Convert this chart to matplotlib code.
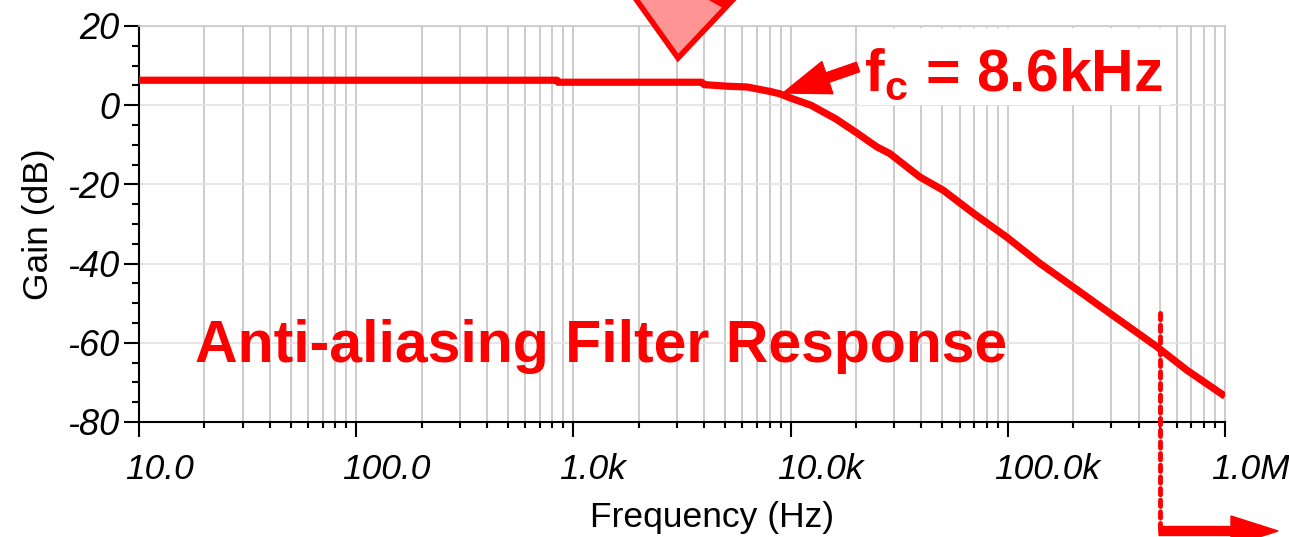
import matplotlib
matplotlib.use("Agg")
import matplotlib.pyplot as plt
import matplotlib.transforms as mtransforms
from matplotlib.patches import FancyArrow, Polygon, Rectangle
from matplotlib.ticker import FixedLocator, FixedFormatter, LogLocator, MultipleLocator

# filter response
freq_hz = [10, 840, 850, 3900, 4000, 5100, 6300, 8000, 8900, 10000, 12400,
           16200, 20300, 24900, 28600, 39300, 50500, 69500, 98800, 141000,
           200000, 296000, 486000, 667000, 1000000]
gain_db = [6.3, 6.3, 5.8, 5.8, 5.2, 4.8, 4.6, 3.5, 2.9, 1.8, 0.0,
           -3.5, -7.1, -10.5, -12.2, -18.1, -21.5, -27.3, -33.3, -40.0,
           -45.9, -52.6, -61.0, -66.9, -73.5]

x_ticks = [10, 100, 1e3, 1e4, 1e5, 1e6]
x_tick_labels = ["10.0", "100.0", "1.0k", "10.0k", "100.0k", "1.0M"]
y_ticks = [20, 0, -20, -40, -60, -80]
y_tick_labels = ["20", "0", "-20", "-40", "-60", "-80"]

title_text = "Anti-aliasing Filter Response"
fc_text = r"$\mathbf{f}_\mathbf{c}$ = 8.6kHz"
nyquist_hz = 5.0e5

RED = "#ff0000"

plt.rcParams["font.family"] = ["Liberation Sans", "DejaVu Sans"]
plt.rcParams["axes.unicode_minus"] = False
plt.rcParams["mathtext.fontset"] = "custom"
plt.rcParams["mathtext.bf"] = "Liberation Sans:bold"
plt.rcParams["mathtext.rm"] = "Liberation Sans"

W, H = 1289, 537
fig = plt.figure(figsize=(W / 100, H / 100), dpi=100)
ax = fig.add_axes([139 / W, 1 - 422 / H, 1086 / W, 396 / H])

ax.semilogx(freq_hz, gain_db, color=RED, lw=5.2, solid_capstyle="butt", zorder=5)
ax.set_xlim(10, 1e6)
ax.set_ylim(-80, 20)

# axes / ticks
ax.xaxis.set_major_locator(FixedLocator(x_ticks))
ax.xaxis.set_major_formatter(FixedFormatter(x_tick_labels))
ax.xaxis.set_minor_locator(LogLocator(base=10, subs=range(2, 10), numticks=20))
ax.xaxis.set_minor_formatter(FixedFormatter([]))
ax.yaxis.set_major_locator(FixedLocator(y_ticks))
ax.yaxis.set_major_formatter(FixedFormatter(y_tick_labels))
ax.yaxis.set_minor_locator(MultipleLocator(5))

ax.tick_params(which="major", direction="out", length=11, width=1.5, color="black")
ax.tick_params(which="minor", direction="out", length=4, width=1.5, color="black")
ax.tick_params(axis="y", which="minor", length=5)
ax.tick_params(axis="y", which="major", labelsize=26, pad=3)
ax.tick_params(axis="x", which="major", labelsize=25.5, pad=11)
for lab in ax.get_yticklabels() + ax.get_xticklabels():
    lab.set_fontstyle("italic")
shift = mtransforms.ScaledTranslation(-14 / 100, 0, fig.dpi_scale_trans)
for lab in ax.get_xticklabels():
    lab.set_horizontalalignment("left")
    lab.set_transform(lab.get_transform() + shift)

for side in ["left", "bottom"]:
    ax.spines[side].set_linewidth(1.5)
for side in ["top", "right"]:
    ax.spines[side].set_color("#c8c8c8")
    ax.spines[side].set_linewidth(1.2)

ax.grid(which="major", axis="x", color="#c4c4c4", lw=1.2)
ax.grid(which="minor", axis="x", color="#c4c4c4", lw=1.2)
ax.grid(which="major", axis="y", color="#e2e2e2", lw=1.2)
ax.set_axisbelow(True)

ax.set_ylabel("Gain (dB)", fontsize=25.5, labelpad=9)
ax.set_xlabel("Frequency (Hz)", fontsize=25.5, labelpad=11, x=(712 - 139) / 1086)

# annotations
ax.text((195 - 139) / 1086, (422 - 362) / 396, title_text, transform=ax.transAxes,
        fontsize=42.5, fontweight="bold", color=RED, va="baseline", ha="left",
        zorder=6)

ax.add_patch(Rectangle((0.663, 0.80), 0.286, 0.196, transform=ax.transAxes,
                       facecolor="white", edgecolor="none", zorder=3))
ax.text((864 - 139) / 1086, (422 - 90) / 396, fc_text, transform=ax.transAxes,
        fontsize=42.5, fontweight="bold", color=RED, va="baseline", ha="left",
        zorder=6)

px = mtransforms.IdentityTransform()
# arrow pointing at the cutoff point
fig.add_artist(FancyArrow(858, H - 67, 783 - 858, 67 - 93, width=10,
                          head_width=34, head_length=47, length_includes_head=True,
                          color=RED, transform=px, zorder=7))
# nyquist marker: dotted line and arrow to the right
ax.plot([nyquist_hz, nyquist_hz], [-52.5, -108], color=RED, lw=3.5,
        ls=(0, (1.3, 1.1)), dash_capstyle="round", clip_on=False, zorder=6)
fig.add_artist(FancyArrow(1159, 6, 1278 - 1159, 0, width=9, head_width=30,
                          head_length=47, length_includes_head=True,
                          color=RED, transform=px, zorder=7))
# big pink pointer at the top
fig.add_artist(Polygon([(628, H + 12), (678, H - 58), (744, H + 12)], closed=True,
                       facecolor="#ff9494", edgecolor=RED, lw=4, joinstyle="miter",
                       transform=px, zorder=7))
fig.add_artist(Polygon([(708, H + 2), (722, H - 6), (736, H + 2)], closed=True,
                       facecolor=RED, edgecolor=RED, lw=2, transform=px, zorder=8))

fig.savefig("out.png", dpi=100)
